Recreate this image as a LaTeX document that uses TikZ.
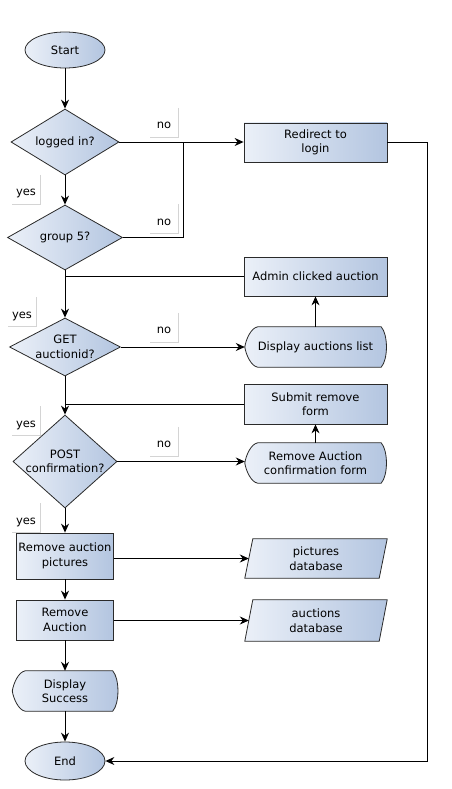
\documentclass[tikz,border=0pt]{standalone}
\usepackage{fontspec}
\newfontfamily\dv{DejaVu Sans}
\usetikzlibrary{shapes.geometric,arrows.meta,calc}
\pgfdeclarelayer{back}
\pgfdeclarelayer{bg}
\pgfsetlayers{back,bg,main}
\definecolor{cL}{HTML}{EBF0F8}
\definecolor{cR}{HTML}{B3C5E0}
\definecolor{bd}{HTML}{2A2A2A}
\definecolor{sh}{HTML}{D4D4D4}
\newcommand{\dispbg}[1]{%
\begin{pgfonlayer}{bg}
\path[shd] (#1.west) .. controls ($(#1.west)+(1,-7)$) and ($(#1.north west)+(6,1)$) .. ($(#1.north west)+(13,0)$) -- ($(#1.north east)+(-5,0)$) .. controls ($(#1.north east)+(2,8)$) and ($(#1.south east)+(2,-8)$) .. ($(#1.south east)+(-5,0)$) -- ($(#1.south west)+(13,0)$) .. controls ($(#1.south west)+(6,-1)$) and ($(#1.west)+(1,7)$) .. cycle;
\end{pgfonlayer}}
\newcommand{\parabg}[1]{%
\begin{pgfonlayer}{bg}
\path[shd] ($(#1.north west)+(4,0)$) -- ($(#1.north east)+(4,0)$) -- ($(#1.south east)+(-4,0)$) -- ($(#1.south west)+(-4,0)$) -- cycle;
\end{pgfonlayer}}
\begin{document}
\begin{tikzpicture}[x=1pt,y=-1pt,
  every node/.style={font=\dv\fontsize{11.5}{14.5}\selectfont, align=center, inner sep=0pt, text=black},
  shd/.style={left color=cL, right color=cR, draw=bd, line width=0.8pt},
  proc/.style={shd, rectangle},
  term/.style={shd, ellipse},
  dia/.style={shd, diamond},
  plain/.style={rectangle},
  lbl/.style={rectangle, minimum width=28pt, minimum height=29pt, fill=white, text height=12pt, text depth=0pt},
  arr/.style={-{Stealth[length=9pt,width=8pt,inset=3pt]}, line width=0.9pt},
  ln/.style={line width=0.9pt}]
\begin{pgfonlayer}{back}
\fill[white] (0,0) rectangle (451,789);
\end{pgfonlayer}
\useasboundingbox (0,0) rectangle (451,789);

% labels
\node[lbl] (n1) at (164,122.5) {no};
\node[lbl] (y1) at (26,189.5) {yes};
\node[lbl] (n2) at (164,219) {no};
\node[lbl] (y2) at (22,312) {yes};
\node[lbl] (n3) at (164,327.5) {no};
\node[lbl] (y3) at (26,421) {yes};
\node[lbl] (n4) at (164,441.5) {no};
\node[lbl] (y4) at (26,518) {yes};
\foreach \n in {n1,y1,n2,y2,n3,y3,n4,y4}
  \draw[sh, line width=1pt] (\n.north east) -- (\n.south east) -- (\n.south west);

% left column
\node[term, minimum width=80pt, minimum height=36pt] (start) at (65,50) {Start};
\node[dia, minimum width=108pt, minimum height=66pt] (d1) at (65,142) {};
\node (t1) at (d1) {logged in?};
\node[dia, minimum width=115pt, minimum height=65pt] (d2) at (65,237.5) {};
\node (t2) at (d2) {group 5?};
\node[dia, minimum width=111pt, minimum height=58pt] (get) at (65,347) {};
\node (t3) at (get) {GET\\auctionid?};
\node[dia, minimum width=104pt, minimum height=93pt] (post) at (65,461.5) {};
\node (t4) at (post) {POST\\confirmation?};
\node[proc, minimum width=97pt, minimum height=46pt] (rap) at (65,556) {Remove auction\\pictures};
\node[proc, minimum width=97pt, minimum height=40pt] (ra) at (65,620) {Remove\\Auction};
\node[plain, minimum width=105pt, minimum height=40pt] (ds) at (65,691) {Display\\Success};
\dispbg{ds}
\node[term, minimum width=80pt, minimum height=38pt] (end) at (65,761) {End};

% right column
\node[proc, minimum width=143pt, minimum height=39pt] (red) at (315.5,142.5) {Redirect to\\login};
\node[proc, minimum width=143pt, minimum height=39pt] (adm) at (315.5,276.5) {Admin clicked auction};
\node[plain, minimum width=141pt, minimum height=40pt] (dal) at (315.5,347) {Display auctions list};
\dispbg{dal}
\node[proc, minimum width=143pt, minimum height=40pt] (sub) at (315.5,404) {Submit remove\\form};
\node[plain, minimum width=141pt, minimum height=40pt] (rcf) at (315.5,463) {Remove Auction\\confirmation form};
\dispbg{rcf}
\node[plain, minimum width=134pt, minimum height=39pt] (pdb) at (316,558.5) {pictures\\database};
\parabg{pdb}
\node[plain, minimum width=134pt, minimum height=41pt] (adb) at (316,620.5) {auctions\\database};
\parabg{adb}

\coordinate (j1) at (183,142);
\coordinate (c1) at (427,142.5);

% connectors
\draw[arr] (start.south) -- (d1.north);
\draw[arr] (d1.east) -- (red.west |- d1.east);
\draw[arr] (d1.south) -- (d2.north);
\draw[ln] (d2.east) -| (j1);
\draw[arr] (red.east) -- (c1) |- (end.east);
\draw[arr] (d2.south) -- (get.north);
\draw[ln] (adm.west) -- (adm.west -| d2.south);
\draw[arr] (dal.north) -- (adm.south);
\draw[arr] (get.east) -- (dal.west);
\draw[arr] (get.south) -- (post.north);
\draw[ln] (sub.west) -- (sub.west -| get.south);
\draw[arr] (rcf.north) -- (sub.south);
\draw[arr] (post.east) -- (rcf.west |- post.east);
\draw[arr] (post.south) -- (rap.north);
\draw[arr] (rap.east |- pdb.west) -- (pdb.west);
\draw[arr] (ra.east |- adb.west) -- (adb.west);
\draw[arr] (rap.south) -- (ra.north);
\draw[arr] (ra.south) -- (ds.north);
\draw[arr] (ds.south) -- (end.north);
\end{tikzpicture}
\end{document}
